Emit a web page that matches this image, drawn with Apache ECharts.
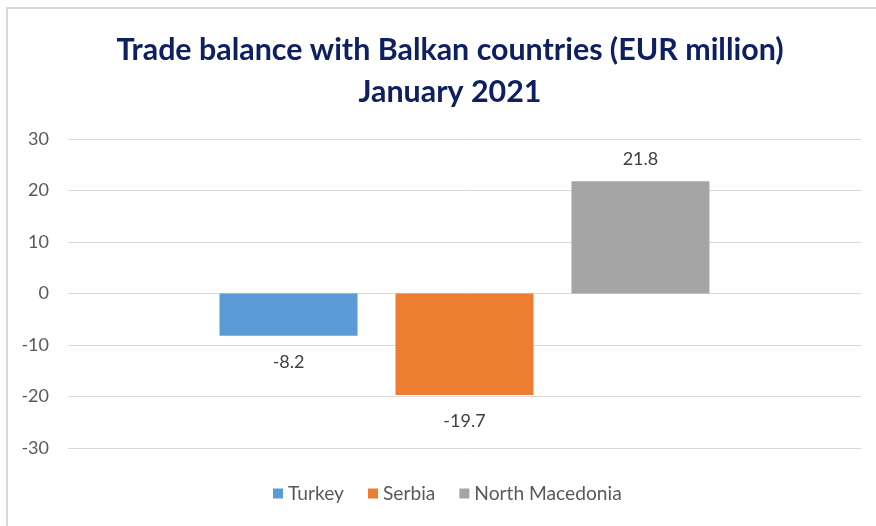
<!DOCTYPE html>
<html>
<head>
<meta charset="utf-8">
<script src="https://cdn.jsdelivr.net/npm/echarts@6/dist/echarts.min.js"></script>
<style>
  html, body { margin: 0; padding: 0; background: #ffffff; }
  #chart { width: 876px; height: 526px; }
</style>
</head>
<body>
<div id="chart"></div>
<script>
// Trade balance by partner country, January 2021 (EUR million)
const categories = ['January 2021'];
const countries = ['Turkey', 'Serbia', 'North Macedonia'];
const balances = [-8.2, -19.7, 21.8];
const colors = ['#5B9BD5', '#ED7D31', '#A5A5A5'];
const yTicks = { min: -30, max: 30, interval: 10 };

const FONT = 'Lato, "Liberation Sans", sans-serif';

const chart = echarts.init(document.getElementById('chart'), null, { renderer: 'canvas' });

const series = countries.map((name, i) => ({
  name: name,
  type: 'bar',
  data: [balances[i]],
  barWidth: 138,
  barGap: '27.5%',
  itemStyle: { color: colors[i] },
  label: {
    show: true,
    position: balances[i] >= 0 ? 'top' : 'bottom',
    distance: balances[i] >= 0 ? 13 : 17,
    color: '#404040',
    fontFamily: FONT,
    fontSize: 18,
    formatter: (p) => p.value.toFixed(1)
  }
}));

chart.setOption({
  animation: false,
  backgroundColor: '#ffffff',
  color: colors,
  title: {
    text: 'Trade balance with Balkan countries (EUR million)\nJanuary 2021',
    left: 445,
    textAlign: 'center',
    top: 24,
    textStyle: {
      color: '#0E2060',
      fontFamily: FONT,
      fontWeight: 'bold',
      fontSize: 30.4,
      lineHeight: 42
    }
  },
  legend: {
    bottom: 18,
    left: 268,
    itemWidth: 10,
    itemHeight: 10,
    itemGap: 24,
    icon: 'rect',
    textStyle: { color: '#595959', fontFamily: FONT, fontSize: 19.2 },
    data: countries
  },
  grid: { left: 68, right: 15, top: 139, height: 309, containLabel: false },
  xAxis: {
    type: 'category',
    data: categories,
    axisLine: { show: false },
    axisTick: { show: false },
    axisLabel: { show: false }
  },
  yAxis: {
    type: 'value',
    min: yTicks.min,
    max: yTicks.max,
    interval: yTicks.interval,
    axisLine: { show: false },
    axisTick: { show: false },
    axisLabel: { color: '#595959', fontFamily: FONT, fontSize: 18, margin: 19 },
    splitLine: { lineStyle: { color: '#D9D9D9', width: 1 } }
  },
  graphic: [{
    type: 'rect',
    shape: { x: 7, y: 8, width: 900, height: 560 },
    style: { fill: null, stroke: '#D9D9D9', lineWidth: 2 },
    silent: true,
    z: 100
  }],
  series: series
});
</script>
</body>
</html>
